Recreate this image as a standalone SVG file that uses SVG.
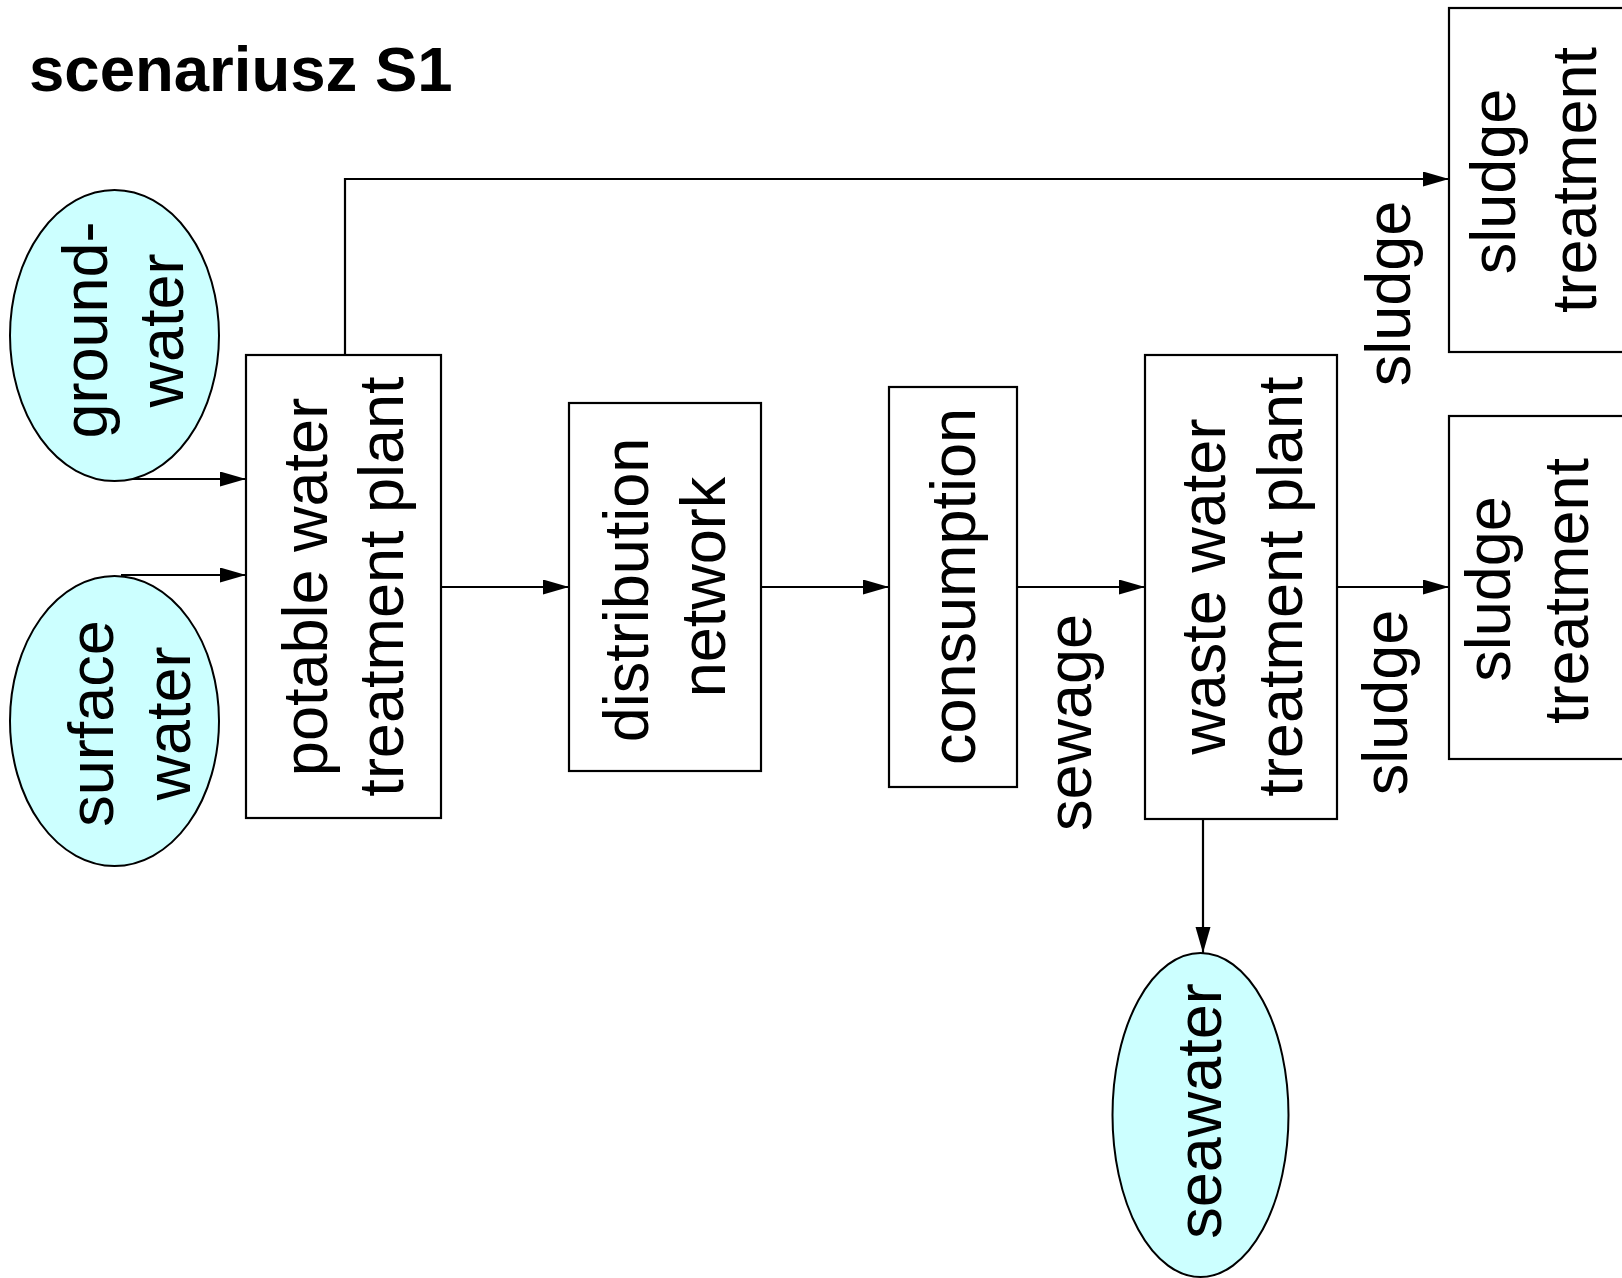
<svg xmlns="http://www.w3.org/2000/svg" width="1622" height="1278" viewBox="0 0 1622 1278">
<style>
.box{fill:#fff;stroke:#000;stroke-width:2.2}
.ell{fill:#ccffff;stroke:#000;stroke-width:2}
.t{font-family:"Liberation Sans",Arial,sans-serif;font-size:63px;fill:#000;text-anchor:middle}
.title{font-family:"Liberation Sans",Arial,sans-serif;font-size:63.5px;font-weight:bold;fill:#000}
.c{fill:none;stroke:#000;stroke-width:2.2}
</style>
<defs>
<marker id="ah" markerUnits="userSpaceOnUse" markerWidth="27" markerHeight="16" refX="26" refY="7.5" orient="auto">
<path d="M0,0 L26,7.5 L0,15 z" fill="#000"/>
</marker>
</defs>
<rect width="1622" height="1278" fill="#fff"/>
<text class="title" x="29" y="91">scenariusz S1</text>
<g id="connectors">
<path class="c" d="M121,479 H246" marker-end="url(#ah)"/>
<path class="c" d="M121,575 H246" marker-end="url(#ah)"/>
<path class="c" d="M441,587 H569" marker-end="url(#ah)"/>
<path class="c" d="M761,587 H889" marker-end="url(#ah)"/>
<path class="c" d="M1017,587 H1145" marker-end="url(#ah)"/>
<path class="c" d="M1337,587 H1449" marker-end="url(#ah)"/>
<path class="c" d="M1203,819 V953" marker-end="url(#ah)"/>
<path class="c" d="M345,355 V179 H1449" marker-end="url(#ah)"/>
<text class="t" transform="translate(1410,293.5) rotate(-90)">sludge</text>
<text class="t" transform="translate(1407,702.5) rotate(-90)">sludge</text>
<text class="t" transform="translate(1091,722.5) rotate(-90)">sewage</text>
</g>
<g id="groundwater">
<ellipse class="ell" cx="114.5" cy="335.5" rx="104.5" ry="145.5"/>
<text class="t" transform="translate(107,330) rotate(-90)">ground-</text>
<text class="t" transform="translate(183,330.5) rotate(-90)">water</text>
</g>
<g id="surfacewater">
<ellipse class="ell" cx="114.5" cy="721" rx="104.5" ry="145"/>
<text class="t" transform="translate(113,723.5) rotate(-90)">surface</text>
<text class="t" transform="translate(190,723.5) rotate(-90)">water</text>
</g>
<g id="potable">
<rect class="box" x="246" y="355" width="195" height="463"/>
<text class="t" transform="translate(327,587) rotate(-90)">potable water</text>
<text class="t" transform="translate(403,586.5) rotate(-90)">treatment plant</text>
</g>
<g id="distribution">
<rect class="box" x="569" y="403" width="192" height="368"/>
<text class="t" transform="translate(648,590) rotate(-90)">distribution</text>
<text class="t" transform="translate(725,587) rotate(-90)">network</text>
</g>
<g id="consumption">
<rect class="box" x="889" y="387" width="128" height="400"/>
<text class="t" transform="translate(975,586.5) rotate(-90)">consumption</text>
</g>
<g id="wastewater">
<rect class="box" x="1145" y="355" width="192" height="464"/>
<text class="t" transform="translate(1225,586.7) rotate(-90)">waste water</text>
<text class="t" transform="translate(1302,586.5) rotate(-90)">treatment plant</text>
</g>
<g id="sludge1">
<rect class="box" x="1449" y="8" width="190" height="344"/>
<text class="t" transform="translate(1515,181.5) rotate(-90)">sludge</text>
<text class="t" transform="translate(1596,180) rotate(-90)">treatment</text>
</g>
<g id="sludge2">
<rect class="box" x="1449" y="416" width="190" height="343"/>
<text class="t" transform="translate(1510,589) rotate(-90)">sludge</text>
<text class="t" transform="translate(1588,591) rotate(-90)">treatment</text>
</g>
<g id="seawater">
<ellipse class="ell" cx="1200.5" cy="1115" rx="88" ry="162"/>
<text class="t" transform="translate(1221,1111) rotate(-90)">seawater</text>
</g>
</svg>
